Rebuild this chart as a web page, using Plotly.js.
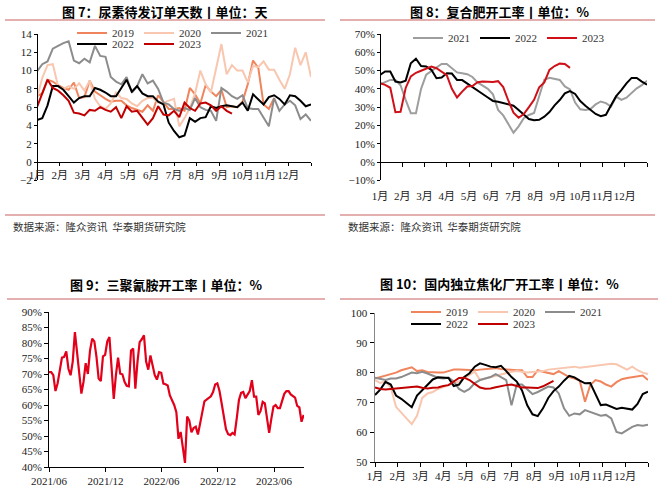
<!DOCTYPE html>
<html><head><meta charset="utf-8">
<script src="https://cdn.plot.ly/plotly-3.0.1.min.js"></script>
<style>html,body{margin:0;padding:0;background:#fff;}#chart{width:661px;height:491px;}</style>
</head><body><div id="chart"></div>
<script>
// ---------- shared axis labels ----------
const monthTicks = [1,2,3,4,5,6,7,8,9,10,11,12,13];
const monthLabels = ['1月','2月','3月','4月','5月','6月','7月','8月','9月','10月','11月','12月',''];

// ---------- 图7 尿素待发订单天数 (weekly, days) ----------
const urea2019 = [7.2,7.5,9.0,8.8,8.4,8.1,7.9,8.7,7.0,7.1,8.9,7.7,7.3,6.9,6.6,6.7,6.7,6.2,5.9,5.7,5.5,6.2,5.6,7.3,6.6,5.8,5.8,5.9,5.6,8.1,7.4,6.4,8.4,7.7,7.2,7.9,6.0,6.1,6.0,6.6,8.5,11.1,10.3,6.3,5.8,7.0];
const urea2020 = [7.0,9.2,10.6,10.7,8.3,8.0,8.3,8.0,8.6,7.8,8.9,6.9,6.1,5.8,6.4,7.6,7.0,6.9,6.4,6.1,6.7,7.0,7.0,6.5,6.5,6.7,6.9,3.9,4.8,5.9,7.5,10.0,8.5,7.6,10.2,12.9,9.6,10.6,10.0,10.0,8.7,10.5,10.4,11.0,10.1,10.1,9.0,8.0,9.6,12.5,10.6,12.0,9.3];
const urea2021 = [9.9,10.7,11.0,12.4,12.7,13.0,13.2,11.1,10.8,11.3,10.9,12.7,11.6,11.5,9.3,8.8,8.5,9.3,7.6,8.3,9.6,8.6,8.9,8.0,6.5,6.3,5.8,5.6,5.9,5.7,7.0,6.0,5.7,5.6,4.5,8.1,7.7,7.2,6.9,7.3,5.9,5.8,5.8,4.8,3.9,7.0,5.6,6.3,6.7,6.2,4.7,5.2,4.5];
const urea2022 = [4.6,4.8,6.2,8.3,8.3,7.9,7.2,6.5,7.0,7.2,7.2,8.1,7.9,7.6,7.2,7.2,8.1,9.0,7.7,8.3,7.5,7.2,7.2,6.6,6.3,4.3,3.4,2.7,2.9,4.8,4.4,4.8,4.9,6.1,5.9,6.1,6.2,6.1,6.0,6.5,5.6,7.4,6.8,6.3,7.1,7.3,6.9,6.3,7.3,7.2,6.7,6.1,6.3];
const urea2023 = [6.0,7.4,9.0,8.1,7.8,7.3,6.7,5.4,5.3,5.1,5.7,5.6,6.0,5.7,5.5,6.0,4.8,6.1,5.5,5.6,4.9,4.1,4.8,6.1,5.2,5.1,5.6,4.9,6.5,5.9,5.6,6.4,6.5,6.2,5.6,6.1,5.6,5.3];

// ---------- 图8 复合肥开工率 (weekly, %) ----------
const fert2021 = [42.5,43.7,44.9,44.8,42,34,26.7,26.7,40,47.8,49.8,51.6,53.6,53.6,51.5,49,48.5,48,46.5,43.5,41.8,40,37,28.5,25.5,21,16,19.5,24,25.7,26.8,36,45,46,45.4,44.9,41.3,39.7,32.5,28.8,28.5,29,31.5,33.1,32.2,30.3,35.8,34,35.2,37.8,40.3,42,44.5];
const fert2022 = [47.6,49.5,49.5,44,43.5,44.5,54,56.5,52.5,52.2,50.4,45.8,46.2,48.5,48.4,44.9,44.8,43,41,39.3,37.2,35.3,33.4,33,32.4,31.5,30.8,28.5,26,23.5,22.8,23.1,24.8,27.3,31,33.9,37.5,38.8,37.2,33.3,30.8,28.5,26.3,25.1,25.8,31,36,39.3,43,46,46,44,42.3];
const fert2023 = [43.1,42.2,40.6,27.2,27.5,40.5,46.8,48.8,49.9,51,52.2,51.3,49.3,47.5,40,35.3,38.5,41.3,41.6,43.6,44,44,43.7,44.2,41,33.5,27,24.2,26.2,30,34,40.8,43.5,50.4,52.5,53.8,53.6,51.5];

// ---------- 图9 三聚氰胺开工率 (weekly from 2021-06-01, %) ----------
const melamineStart = '2021-06-01';
const melamine = [70.6,70.6,69.6,64.5,67.0,71.7,75.3,75.5,77.3,71.7,69.6,74.0,83.5,77.0,69.0,63.7,67.5,73.5,70.0,77.5,81.4,80.5,75.5,68.5,67.7,75.7,76.2,80.5,81.9,73.0,62.0,69.6,75.3,70.1,69.9,67.5,66.2,66.0,77.6,78.2,65.3,73.9,80.3,81.2,82.5,74.0,71.4,76.0,72.3,69.6,68.2,70.6,70.4,66.9,66.7,66.3,63.1,61.6,60.0,57.7,49.1,51.3,47.0,41.3,56.3,55.0,51.2,52.6,53.0,50.5,54.0,57.5,61.2,61.7,62.3,62.8,64.2,66.6,67.0,64.5,60.5,56.5,52.2,50.6,50.3,51.0,50.5,55.8,61.6,63.9,64.2,62.2,63.4,64.5,68.0,62.7,62.7,56.8,58.0,61.0,60.5,55.0,51.0,55.5,59.5,60.0,59.0,59.0,61.5,63.6,64.5,64.5,63.4,63.0,62.4,59.7,59.2,54.6,56.8];
const melTickVals = ['2021-06-01','2021-12-01','2022-06-01','2022-12-01','2023-06-01'];
const melTickText = ['2021/06','2021/12','2022/06','2022/12','2023/06'];

// ---------- 图10 国内独立焦化厂开工率 (weekly, %) ----------
const coke2019 = [78,78.5,79,79.5,80,80.8,81.2,81.8,80.5,80.8,80.2,80,80,80,80.5,81,81,80.9,80.8,80.8,81,81.2,81.5,81.5,81.2,81,80.8,80.8,80.8,78.5,78.5,80.8,80.3,80,79.5,80.5,79.5,78.5,78,77.3,70.2,75.8,77.5,77,76,75.3,76.8,77.8,78.2,78.5,78.8,79,77.5];
const coke2020 = [77.5,76.5,77,75,68.5,66.5,64.5,62.7,65.5,71.5,73,73.5,74.5,75.2,76,76.5,77,78,79.2,80.3,77.5,78,78.5,79,79.5,80,80.3,80.5,80.3,80,80.2,80.3,80.5,81,81.2,81.4,81.6,81.8,82,81.6,81.8,82,82.2,82.5,82.8,83,82.8,82,81,82,80.8,80,79.5];
const coke2021 = [78.3,77.8,77.5,78,78,78.5,79.3,80,79.8,80.3,79.7,79,78.3,78,78.3,77,74.5,73.5,74.5,76.5,77.5,78,78.5,79.5,78.5,77.5,69,76,76,74.5,72.8,73.5,74.5,75.3,75,73,68,65.5,66.3,66,67.4,66.8,66.2,65.5,65.8,64.6,60.1,59.6,60.7,61.8,62.4,62.2,62.5];
const coke2022 = [72.5,74.3,76.9,76,72.3,71.2,69.8,68.4,72.3,74,75.8,77.7,78.4,78.4,78.2,75.5,76,78.5,79.8,82,83.1,82.6,82,81.8,82.3,80.5,78.5,77,74,69,66,65.4,68,71.5,73.8,75.3,77.3,78.9,78.4,77.3,76.4,76.5,72.5,69.1,69.3,68.6,67.8,68.2,67.8,67.6,69.5,72.8,73.6];
const coke2023 = [75,74.5,74.3,74.5,74.7,74.9,75,75.1,75.3,74.9,74.7,74.9,75,75.5,75.8,77,78.2,78.3,77.5,76.2,75,74.6,74.7,75.1,75.5,75.8,76,75.5,75,75,74.8,74.8,75.4,76.2,77.2];

// ---------- helpers ----------
const W = 661, H = 491;
const SERIF = 'Liberation Serif, "Noto Sans CJK SC", serif';
const CJK = '"Noto Sans CJK SC", sans-serif';
const fx = px => px / W;
const fy = py => 1 - py / H;
// week index -> month position on a 1..13 axis
const weekPos = arr => arr.map((_, i) => 1 + i * 12 / 52);
const weeklyDates = (start, arr) => {
  const t0 = new Date(start + 'T00:00:00Z').getTime();
  return arr.map((_, i) => new Date(t0 + i * 7 * 86400000).toISOString().slice(0, 10));
};

const C = {y2019:'#F0845C', y2020:'#F9C6AF', y2021:'#8C8C8C', y2022:'#000000', y2023:'#C00000'};

function tr(y, x, name, color, width, ax, legend) {
  return {type:'scatter', mode:'lines', x:x, y:y, name:name,
    line:{color:color, width:width}, xaxis:'x'+ax, yaxis:'y'+ax,
    legend: legend || 'legend', showlegend: !!legend, hoverinfo:'skip'};
}

const traces = [
  tr(urea2019, weekPos(urea2019), '2019', C.y2019, 2, '', 'legend'),
  tr(urea2020, weekPos(urea2020), '2020', C.y2020, 2, '', 'legend'),
  tr(urea2021, weekPos(urea2021), '2021', C.y2021, 2, '', 'legend'),
  tr(urea2022, weekPos(urea2022), '2022', C.y2022, 2, '', 'legend2'),
  tr(urea2023, weekPos(urea2023), '2023', C.y2023, 2, '', 'legend2'),

  tr(fert2021, weekPos(fert2021), '2021', '#9E9E9E', 2, '2', 'legend3'),
  tr(fert2022, weekPos(fert2022), '2022', '#000000', 2, '2', 'legend3'),
  tr(fert2023, weekPos(fert2023), '2023', '#D01018', 2, '2', 'legend3'),

  tr(melamine, weeklyDates(melamineStart, melamine), '三聚氰胺', '#E2001A', 2.2, '3', null),

  tr(coke2019, weekPos(coke2019), '2019', C.y2019, 2, '4', 'legend4'),
  tr(coke2020, weekPos(coke2020), '2020', C.y2020, 2, '4', 'legend4'),
  tr(coke2021, weekPos(coke2021), '2021', C.y2021, 2, '4', 'legend4'),
  tr(coke2022, weekPos(coke2022), '2022', C.y2022, 2, '4', 'legend5'),
  tr(coke2023, weekPos(coke2023), '2023', C.y2023, 2, '4', 'legend5'),
];

const tickFont = {family:SERIF, size:11, color:'#222'};
function monthAxis(domain, extra) {
  return Object.assign({domain:domain, range:[1,13], tickmode:'array', tickvals:monthTicks, ticktext:monthLabels,
    tickangle:0, showline:true, linecolor:'#000', linewidth:1, ticks:'outside', ticklen:3, tickcolor:'#000',
    showgrid:false, zeroline:false, tickfont:tickFont, fixedrange:true}, extra);
}
function valAxis(domain, range, dtick, extra) {
  return Object.assign({domain:domain, range:range, dtick:dtick, tick0:0,
    showline:true, linecolor:'#000', linewidth:1, ticks:'outside', ticklen:3, tickcolor:'#000',
    showgrid:false, zeroline:false, tickfont:tickFont, fixedrange:true}, extra);
}
function legendAt(xpx, ypx) {
  return {orientation:'h', x:fx(xpx), y:fy(ypx), xanchor:'left', yanchor:'middle',
    bgcolor:'rgba(0,0,0,0)', borderwidth:0, font:{family:SERIF, size:11, color:'#333'},
    entrywidth:22, entrywidthmode:'pixels', itemwidth:30, tracegroupgap:0, traceorder:'normal'};
}

const topDom = [fy(180.3), fy(34)];
const zeroPos = topDom[0] + (topDom[1] - topDom[0]) * 0.125;

const layout = {
  width:W, height:H, margin:{l:0,r:0,t:0,b:0}, paper_bgcolor:'#fff', plot_bgcolor:'rgba(0,0,0,0)',
  showlegend:true, hovermode:false,
  // chart 7
  xaxis: monthAxis([fx(37), fx(311)], {anchor:'free', position:zeroPos}),
  yaxis: valAxis(topDom, [-2,14], 2, {anchor:'free', position:fx(37)}),
  // chart 8
  xaxis2: monthAxis([fx(380), fx(647)], {anchor:'free', position:zeroPos, ticklen:4, ticklabelstandoff:20}),
  yaxis2: valAxis(topDom, [-10,70], 10, {anchor:'free', position:fx(380), ticksuffix:'%'}),
  // chart 9
  xaxis3: {domain:[fx(49), fx(304)], type:'date', range:['2021-06-01','2023-09-06'], tickmode:'array',
    tickvals:melTickVals, ticktext:melTickText, tickangle:0, anchor:'y3', showline:true, linecolor:'#000', linewidth:1,
    ticks:'outside', ticklen:4, tickcolor:'#000', showgrid:false, zeroline:false, tickfont:tickFont, fixedrange:true},
  yaxis3: valAxis([fy(467), fy(312)], [40,90], 5, {anchor:'x3', ticksuffix:'%', ticklen:4}),
  // chart 10
  xaxis4: monthAxis([fx(375), fx(648)], {anchor:'y4', ticklen:4}),
  yaxis4: valAxis([fy(462), fy(313)], [50,100], 10, {anchor:'x4', linecolor:'#888', linewidth:1.5, ticklen:4}),

  legend: legendAt(72, 33),
  legend2: legendAt(72, 44),
  legend3: legendAt(408, 38),
  legend4: legendAt(406, 312),
  legend5: legendAt(406, 324),

  shapes: [
    {type:'line', xref:'paper', yref:'paper', x0:fx(5), x1:fx(325), y0:fy(20), y1:fy(20), line:{color:'#DA9694', width:1.5}},
    {type:'line', xref:'paper', yref:'paper', x0:fx(340), x1:fx(655), y0:fy(20), y1:fy(20), line:{color:'#DA9694', width:1.5}},
    {type:'line', xref:'paper', yref:'paper', x0:fx(5), x1:fx(325), y0:fy(215), y1:fy(215), line:{color:'#DA9694', width:1.5}},
    {type:'line', xref:'paper', yref:'paper', x0:fx(340), x1:fx(655), y0:fy(215), y1:fy(215), line:{color:'#DA9694', width:1.5}},
    {type:'line', xref:'paper', yref:'paper', x0:fx(7), x1:fx(325), y0:fy(299), y1:fy(299), line:{color:'#DA9694', width:1.5}},
    {type:'line', xref:'paper', yref:'paper', x0:fx(340), x1:fx(658), y0:fy(299), y1:fy(299), line:{color:'#DA9694', width:1.5}},
  ],
  annotations: [
    {text:'<b>图 7：尿素待发订单天数丨单位：天</b>', x:fx(165), y:fy(12)},
    {text:'<b>图 8：复合肥开工率丨单位：%</b>', x:fx(500), y:fy(12)},
    {text:'<b>图 9：三聚氰胺开工率丨单位：%</b>', x:fx(166), y:fy(284)},
    {text:'<b>图 10：国内独立焦化厂开工率丨单位：%</b>', x:fx(500), y:fy(283)},
  ].map(a => Object.assign({xref:'paper', yref:'paper', xanchor:'center', yanchor:'middle', showarrow:false,
      font:{family:CJK, size:13, color:'#000'}}, a))
  .concat([
    {text:'数据来源：隆众资讯  华泰期货研究院', x:fx(11), y:fy(226)},
    {text:'数据来源：隆众资讯  华泰期货研究院', x:fx(346), y:fy(226)},
  ].map(a => Object.assign({xref:'paper', yref:'paper', xanchor:'left', yanchor:'middle', showarrow:false,
      font:{family:CJK, size:10.5, color:'#333'}}, a))),
};

Plotly.newPlot('chart', traces, layout, {staticPlot:true, displayModeBar:false});
</script>
</body></html>
